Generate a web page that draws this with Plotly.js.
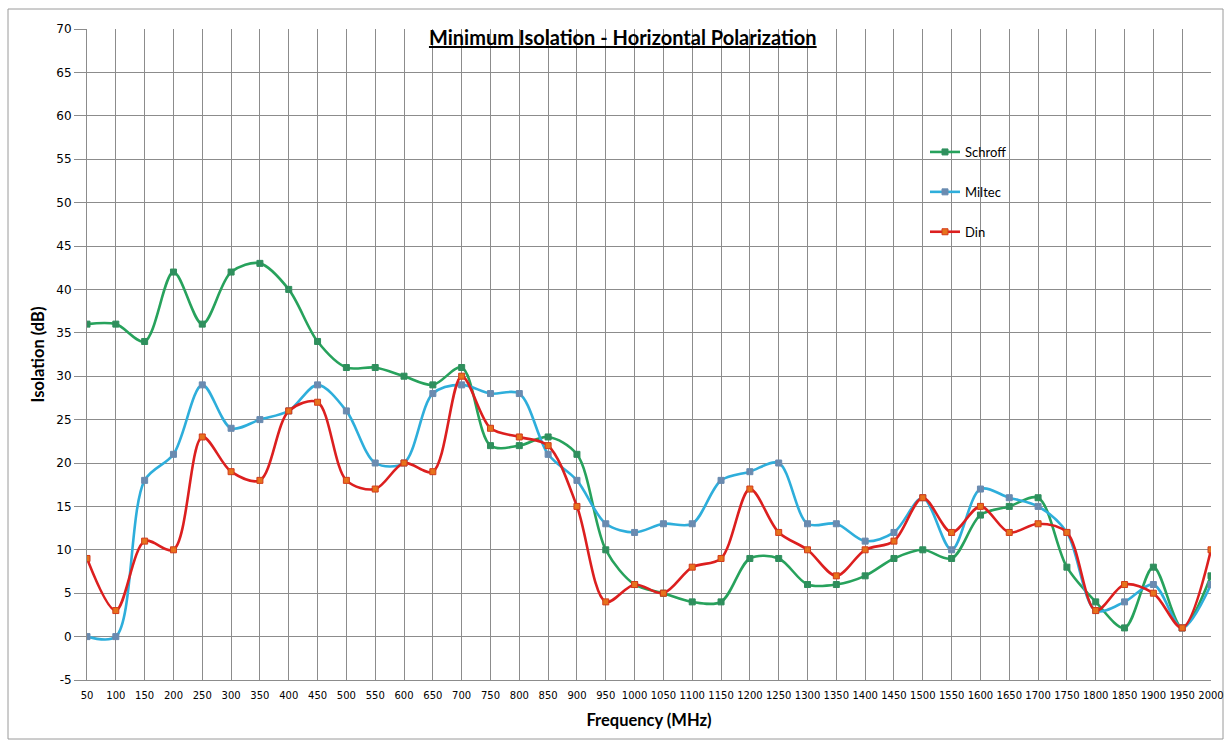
<!DOCTYPE html>
<html>
<head>
<meta charset="utf-8">
<script src="https://cdn.plot.ly/plotly-3.0.1.min.js"></script>
<style>html,body{margin:0;padding:0;background:#fff;} #chart{width:1226px;height:740px;}</style>
</head>
<body>
<div id="chart"></div>
<script>
const frequency = [50,100,150,200,250,300,350,400,450,500,550,600,650,700,750,800,850,900,950,1000,
  1050,1100,1150,1200,1250,1300,1350,1400,1450,1500,1550,1600,1650,1700,1750,1800,1850,1900,1950,2000];
const schroff = [36,36,34,42,36,42,43,40,34,31,31,30,29,31,22,22,23,21,10,6,
  5,4,4,9,9,6,6,7,9,10,9,14,15,16,8,4,1,8,1,7];
const miltec = [0,0,18,21,29,24,25,26,29,26,20,20,28,29,28,28,21,18,13,12,
  13,13,18,19,20,13,13,11,12,16,10,17,16,15,12,3,4,6,1,6];
const din = [9,3,11,10,23,19,18,26,27,18,17,20,19,30,24,23,22,15,4,6,
  5,8,9,17,12,10,7,10,11,16,12,15,12,13,12,3,6,5,1,10];
const yTicks = [-5,0,5,10,15,20,25,30,35,40,45,50,55,60,65,70];

const mk = (name, y, lineColor, markerColor, markerLine, group) => ({
  type: 'scatter', mode: 'lines+markers', name: name, x: frequency, y: y,
  legendgroup: group,
  line: {color: lineColor, width: 2.6, shape: 'spline', smoothing: 0.9},
  marker: {symbol: 'square', size: 6, color: markerColor, line: {color: markerLine, width: 1}}
});

const traces = [
  mk('Schroff', schroff, '#27a25c', '#2f8f5d', '#2f8f5d', 'a'),
  mk('Miltec', miltec, '#2eaedb', '#6a8bb0', '#6a8bb0', 'b'),
  mk('Din', din, '#dc1f1f', '#e6721c', '#d43a1a', 'c')
];

const layout = {
  width: 1226, height: 740,
  margin: {l: 87, r: 15, t: 29, b: 60},
  paper_bgcolor: '#ffffff', plot_bgcolor: '#ffffff',
  showlegend: true,
  title: {
    text: '<b>Minimum Isolation - Horizontal Polarization</b>',
    font: {family: 'Lato, "Open Sans", sans-serif', size: 20, color: '#000', lineposition: 'under'},
    x: 0.508, xanchor: 'center', xref: 'container',
    y: 1 - 38/740, yanchor: 'middle', yref: 'container'
  },
  xaxis: {
    range: [50, 2000], tickmode: 'array', tickvals: frequency, ticktext: frequency.map(String),
    showgrid: true, gridcolor: '#8c8c8c', gridwidth: 1,
    showline: true, linecolor: '#8c8c8c', linewidth: 1, mirror: false,
    zeroline: false, ticks: 'outside', ticklen: 6, tickcolor: 'rgba(0,0,0,0)', tickangle: 0,
    tickfont: {family: '"DejaVu Sans", Verdana, sans-serif', size: 10, color: '#000'},
    title: {text: '<b>Frequency (MHz)</b>', standoff: 14,
      font: {family: 'Lato, "Open Sans", sans-serif', size: 16.5, color: '#000'}}
  },
  yaxis: {
    range: [-5, 70], tickmode: 'array', tickvals: yTicks, ticktext: yTicks.map(String),
    showgrid: true, gridcolor: '#8c8c8c', gridwidth: 1,
    showline: true, linecolor: '#8c8c8c', linewidth: 1,
    zeroline: false, ticks: 'outside', ticklen: 12, tickcolor: '#8c8c8c',
    tickfont: {family: '"DejaVu Sans", Verdana, sans-serif', size: 12, color: '#000'},
    title: {text: '<b>Isolation (dB)</b>', standoff: 7,
      font: {family: 'Lato, "Open Sans", sans-serif', size: 16.5, color: '#000'}}
  },
  legend: {
    x: (925 - 87) / 1124, xanchor: 'left', y: (680 - 137) / 651, yanchor: 'top',
    bgcolor: 'rgba(0,0,0,0)', borderwidth: 0,
    tracegroupgap: 20, traceorder: 'grouped',
    font: {family: 'Lato, "Open Sans", sans-serif', size: 13, color: '#000'}
  },
  shapes: [
    {type: 'rect', xref: 'paper', yref: 'paper',
     x0: (8 - 87) / 1124, x1: (1223 - 87) / 1124, y0: (680 - 739) / 651, y1: (680 - 9) / 651,
     line: {color: '#9a9a9a', width: 1}, fillcolor: 'rgba(0,0,0,0)', layer: 'below'}
  ]
};

Plotly.newPlot('chart', traces, layout, {displayModeBar: false, responsive: false});
</script>
</body>
</html>
